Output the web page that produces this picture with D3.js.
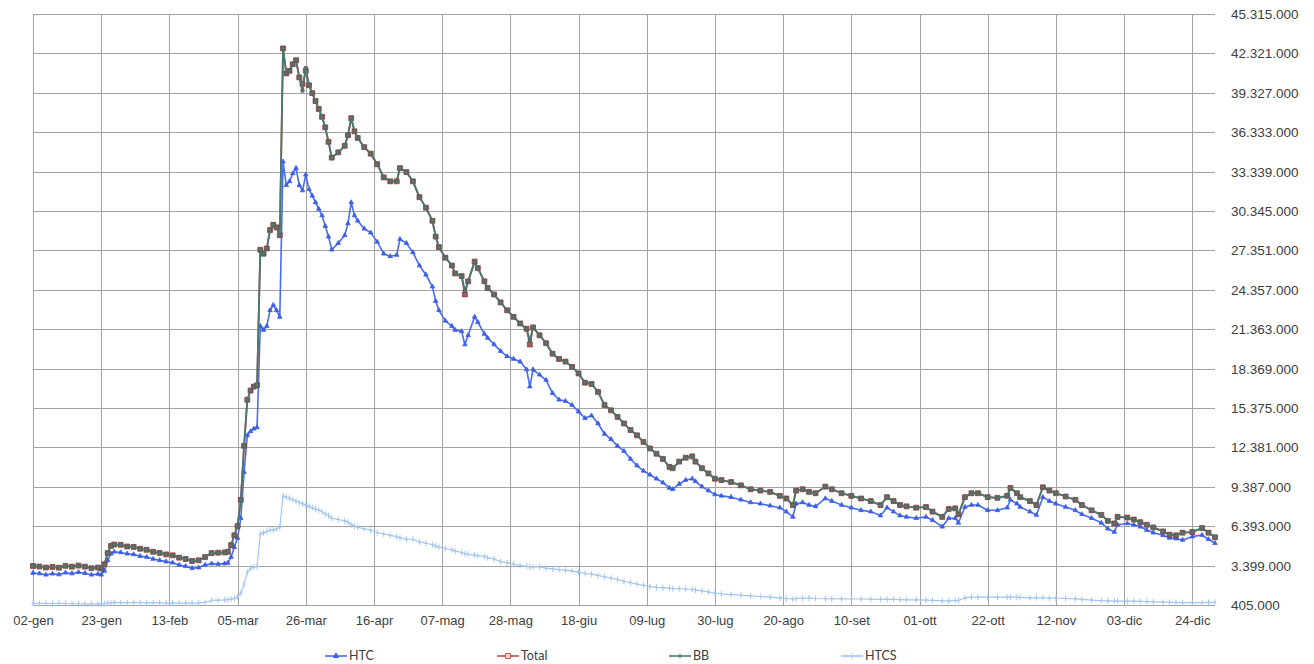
<!DOCTYPE html>
<html>
<head>
<meta charset="utf-8">
<script src="https://cdn.jsdelivr.net/npm/d3@7"></script>
<style>
  html, body { margin: 0; padding: 0; background: #fff; }
  svg { display: block; font-family: Lato, "Open Sans", sans-serif; }
</style>
</head>
<body>
<svg id="chart" width="1314" height="664"></svg>
<script>
// ---- DATA (values in millions) ----
const dates = ["01-02","01-04","01-06","01-08","01-10","01-12","01-14","01-16","01-18","01-20","01-22","01-23","01-24","01-25","01-26","01-27","01-29","01-31",
"02-02","02-04","02-06","02-08","02-10","02-12","02-14","02-16","02-18","02-20","02-22","02-24","02-26","02-28",
"03-01","03-02","03-03","03-04","03-05","03-06","03-07","03-08","03-09","03-10","03-11","03-12","03-13","03-14","03-15","03-16","03-17","03-18","03-19","03-20","03-21","03-22","03-23","03-24","03-25","03-26","03-27","03-28","03-29","03-30","03-31",
"04-01","04-02","04-03","04-05","04-07","04-08","04-09","04-10","04-11","04-13","04-15","04-17","04-19","04-21","04-23","04-24","04-26","04-28","04-30",
"05-02","05-04","05-05","05-06","05-08","05-10","05-11","05-13","05-14","05-15","05-17","05-18","05-20","05-21","05-23","05-25","05-27","05-29","05-31",
"06-02","06-03","06-04","06-06","06-08","06-10","06-12","06-14","06-16","06-18","06-20","06-22","06-24","06-26","06-28","06-30",
"07-02","07-04","07-06","07-08","07-10","07-12","07-14","07-16","07-17","07-19","07-21","07-23","07-24","07-26","07-28","07-30",
"08-01","08-04","08-07","08-10","08-13","08-16","08-19","08-21","08-23","08-24","08-26","08-28","08-30",
"09-02","09-04","09-07","09-10","09-13","09-16","09-19","09-21","09-23","09-25","09-27","09-30",
"10-03","10-05","10-08","10-10","10-12","10-13","10-15","10-17","10-19","10-22","10-25","10-28","10-29","10-31",
"11-01","11-04","11-06","11-08","11-10","11-12","11-15","11-18","11-20","11-23","11-26","11-28","11-30",
"12-01","12-04","12-06","12-08","12-10","12-12","12-15","12-17","12-19","12-21","12-24","12-27","12-29","12-31"];

const htc = [2.84,2.80,2.70,2.78,2.72,2.86,2.80,2.90,2.82,2.70,2.76,2.70,3.00,3.80,4.30,4.45,4.40,4.30,
4.25,4.12,4.05,3.90,3.80,3.70,3.62,3.45,3.35,3.20,3.25,3.45,3.55,3.52,
3.55,3.60,4.05,4.80,5.50,7.00,10.5,13.3,13.6,13.8,13.9,21.6,21.3,21.6,22.8,23.2,22.8,22.3,34.1,32.3,32.6,33.2,33.6,32.3,31.9,33.1,32.0,31.5,31.0,30.5,30.0,
29.2,28.4,27.4,27.9,28.5,29.4,31.0,30.0,29.6,29.0,28.7,28.0,27.1,26.9,27.0,28.2,27.9,27.2,26.2,
25.5,24.6,23.5,22.8,22.0,21.6,21.3,21.2,20.2,20.9,22.3,21.9,21.0,20.7,20.2,19.7,19.3,19.1,18.9,
18.3,17.0,18.3,17.9,17.5,16.5,16.0,15.9,15.6,15.1,14.6,14.8,14.2,13.4,13.0,12.5,
12.1,11.5,11.0,10.6,10.3,10.0,9.7,9.3,9.2,9.6,9.9,10.0,9.8,9.4,9.1,8.8,
8.7,8.6,8.4,8.2,8.1,7.95,7.8,7.5,7.1,8.1,8.2,8.0,7.9,
8.5,8.3,8.0,7.8,7.6,7.5,7.2,7.8,7.5,7.2,7.1,7.0,
7.1,6.85,6.35,7.0,7.0,6.65,7.85,8.0,8.0,7.6,7.6,7.8,8.4,8.1,
7.85,7.5,7.24,8.6,8.3,8.1,7.85,7.6,7.3,7.0,6.65,6.2,5.95,
6.5,6.6,6.5,6.35,6.1,5.9,5.7,5.5,5.45,5.35,5.6,5.72,5.4,5.1];

const total = [3.37,3.33,3.25,3.30,3.24,3.38,3.32,3.40,3.32,3.20,3.25,3.18,3.50,4.35,4.90,5.00,4.98,4.85,
4.82,4.68,4.60,4.45,4.36,4.25,4.18,4.00,3.90,3.75,3.80,4.05,4.35,4.38,
4.40,4.45,4.96,5.70,6.40,8.40,12.5,16.0,16.7,17.0,17.1,27.4,27.1,27.5,28.9,29.3,29.1,28.5,42.7,40.8,41.0,41.5,41.8,40.5,40.0,41.0,39.9,39.3,38.7,38.1,37.5,
36.7,35.6,34.4,34.8,35.3,36.1,37.4,36.4,35.9,35.2,34.7,33.9,32.9,32.6,32.6,33.6,33.3,32.6,31.4,
30.6,29.6,28.4,27.6,26.8,26.2,25.6,25.4,24.0,25.0,26.5,26.0,25.0,24.5,24.0,23.4,22.8,22.3,21.8,
21.4,20.2,21.5,20.9,20.3,19.5,19.1,18.9,18.5,18.0,17.3,17.2,16.6,15.6,15.2,14.7,
14.2,13.7,13.3,12.8,12.3,11.9,11.5,10.9,10.8,11.3,11.6,11.7,11.3,10.8,10.4,10.0,
9.9,9.75,9.5,9.2,9.1,9.0,8.7,8.5,8.0,9.1,9.2,9.0,8.9,
9.4,9.2,8.9,8.7,8.5,8.3,8.0,8.6,8.3,8.0,7.9,7.8,
7.85,7.5,7.1,7.7,7.75,7.3,8.6,8.9,8.9,8.6,8.55,8.7,9.3,8.9,
8.6,8.3,8.0,9.35,9.1,8.9,8.65,8.4,8.0,7.6,7.25,6.8,6.6,
7.1,7.05,6.9,6.7,6.5,6.3,6.0,5.75,5.7,5.9,5.95,6.25,5.9,5.55];

const bb = [3.37,3.33,3.25,3.30,3.24,3.38,3.32,3.40,3.32,3.20,3.25,3.18,3.50,4.35,4.90,5.00,4.98,4.85,
4.82,4.68,4.60,4.45,4.36,4.25,4.18,4.00,3.90,3.75,3.80,4.05,4.35,4.38,
4.40,4.45,4.96,5.70,6.40,8.40,12.5,16.0,16.7,17.0,17.1,27.4,27.1,27.5,28.9,29.3,29.1,28.5,42.7,40.8,41.0,41.5,41.8,40.5,39.5,41.2,39.9,39.3,38.7,38.1,37.5,
36.7,35.6,34.4,34.8,35.3,36.1,37.4,36.4,35.9,35.2,34.7,33.9,32.9,32.6,32.6,33.6,33.3,32.6,31.4,
30.6,29.6,28.4,27.6,26.8,26.2,25.6,25.4,24.3,25.0,26.5,26.0,25.0,24.5,24.0,23.4,22.8,22.3,21.8,
21.4,20.5,21.5,20.9,20.3,19.5,19.1,18.9,18.5,18.0,17.3,17.2,16.6,15.6,15.2,14.7,
14.2,13.7,13.3,12.8,12.3,11.9,11.5,10.9,10.8,11.3,11.6,11.7,11.3,10.8,10.4,10.0,
9.9,9.75,9.5,9.2,9.1,9.0,8.7,8.5,8.0,9.1,9.2,9.0,8.9,
9.4,9.2,8.9,8.7,8.5,8.3,8.0,8.6,8.3,8.0,7.9,7.8,
7.85,7.5,7.1,7.7,7.75,7.3,8.6,8.9,8.9,8.6,8.55,8.7,9.3,8.9,
8.6,8.3,8.0,9.35,9.1,8.9,8.65,8.4,8.0,7.6,7.25,6.8,6.6,
7.1,7.05,6.9,6.7,6.5,6.3,6.0,5.75,5.7,5.9,5.95,6.25,5.9,5.55];

const htcs = [0.53,0.53,0.52,0.52,0.53,0.52,0.50,0.50,0.48,0.50,0.49,0.50,0.52,0.55,0.58,0.60,0.58,0.56,
0.60,0.58,0.57,0.58,0.57,0.55,0.56,0.55,0.55,0.55,0.56,0.60,0.75,0.78,
0.80,0.82,0.85,0.90,1.00,1.30,2.00,2.90,3.20,3.30,3.30,5.80,5.90,6.00,6.10,6.10,6.20,6.30,8.70,8.60,8.50,8.40,8.30,8.20,8.10,8.00,7.90,7.80,7.70,7.60,7.50,
7.30,7.20,7.00,6.90,6.80,6.70,6.50,6.40,6.30,6.20,6.10,5.90,5.80,5.70,5.60,5.50,5.40,5.40,5.20,
5.10,5.00,4.90,4.80,4.70,4.60,4.50,4.40,4.30,4.25,4.20,4.15,4.10,4.00,3.90,3.70,3.60,3.50,3.40,
3.35,3.30,3.30,3.30,3.20,3.15,3.10,3.05,3.00,2.90,2.80,2.75,2.65,2.55,2.45,2.35,
2.20,2.10,2.00,1.90,1.80,1.75,1.72,1.68,1.65,1.64,1.62,1.60,1.55,1.48,1.40,1.30,
1.25,1.20,1.15,1.10,1.05,1.00,0.95,0.90,0.86,0.90,0.92,0.93,0.90,
0.88,0.88,0.87,0.86,0.86,0.85,0.84,0.84,0.83,0.82,0.80,0.80,
0.78,0.75,0.72,0.72,0.74,0.75,0.95,1.00,1.00,1.00,1.00,1.00,1.00,1.00,
0.98,0.95,0.95,0.95,0.93,0.92,0.90,0.87,0.83,0.78,0.74,0.72,0.70,
0.70,0.70,0.70,0.68,0.66,0.65,0.62,0.60,0.60,0.58,0.58,0.58,0.60,0.62];

const seriesNames = ["HTC", "Total", "BB", "HTCS"];
const yTicks = [405000,3399000,6393000,9387000,12381000,15375000,18369000,21363000,24357000,27351000,30345000,33339000,36333000,39327000,42321000,45315000];
const xTickDates = ["2020-01-02","2020-01-23","2020-02-13","2020-03-05","2020-03-26","2020-04-16","2020-05-07","2020-05-28","2020-06-18","2020-07-09","2020-07-30","2020-08-20","2020-09-10","2020-10-01","2020-10-22","2020-11-12","2020-12-03","2020-12-24"];
const xTickLabels = ["02-gen","23-gen","13-feb","05-mar","26-mar","16-apr","07-mag","28-mag","18-giu","09-lug","30-lug","20-ago","10-set","01-ott","22-ott","12-nov","03-dic","24-dic"];
const UNIT = 1e6;

// ---- CHART ----
const svg = d3.select("#chart");
const parse = d3.timeParse("%Y-%m-%d");
const L = 33, R = 1215, T = 14, B = 605;

const x = d3.scaleTime()
  .domain([parse("2020-01-02"), parse("2020-12-31")])
  .range([L, R]);
const y = d3.scaleLinear()
  .domain([405000, 45315000])
  .range([B, T]);

const itLocale = d3.formatLocale({decimal: ",", thousands: ".", grouping: [3], currency: ["€", ""]});
const fmt = itLocale.format(",d");

const tDates = dates.map(d => parse("2020-" + d));
const tickDates = xTickDates.map(parse);

// gridlines
const grid = svg.append("g").attr("shape-rendering", "crispEdges");
grid.selectAll("line.h").data(yTicks).enter().append("line")
  .attr("x1", L).attr("x2", R)
  .attr("y1", d => Math.round(y(d)) + 0.5).attr("y2", d => Math.round(y(d)) + 0.5)
  .attr("stroke", "#a3a3a3").attr("stroke-width", 1);
grid.selectAll("line.v").data(tickDates).enter().append("line")
  .attr("x1", d => Math.round(x(d)) + 0.5).attr("x2", d => Math.round(x(d)) + 0.5)
  .attr("y1", T).attr("y2", B)
  .attr("stroke", "#a3a3a3").attr("stroke-width", 1);

// axes
const yAxis = d3.axisRight(y).tickValues(yTicks).tickFormat(fmt).tickSize(0).tickPadding(0);
const gy = svg.append("g").attr("transform", `translate(1231,0)`).call(yAxis);
gy.select(".domain").remove();
gy.selectAll("text").attr("fill", "#404040").style("font-size", "13.5px").attr("dy", "0.34em");

const xAxis = d3.axisBottom(x).tickValues(tickDates).tickFormat((d, i) => xTickLabels[i]).tickSize(0).tickPadding(0);
const gx = svg.append("g").attr("transform", `translate(0,616)`).call(xAxis);
gx.select(".domain").remove();
gx.selectAll("text").attr("fill", "#404040").style("font-size", "13px").attr("dy", "0.71em");

// series
const mk = arr => arr.map((v, i) => ({date: tDates[i], v: v * UNIT}));
const series = [
  {name: "HTC", data: mk(htc), color: "#4a6cf0", width: 1.6, marker: "tri", mfill: "#3d5fe6", mstroke: "#3d5fe6"},
  {name: "Total", data: mk(total), color: "#c0504d", width: 1.8, marker: "sqBig", mfill: "#a0605c", mstroke: "#8c3b38"},
  {name: "BB", data: mk(bb), color: "#467a70", width: 1.8, marker: "sqSmall", mfill: "#62756f", mstroke: "#4f625c"},
  {name: "HTCS", data: mk(htcs), color: "#a3c6f0", width: 1.2, marker: "cross", mfill: "#a3c6f0", mstroke: "#a3c6f0"}
];
const drawOrder = ["HTCS", "HTC", "Total", "BB"];

const line = d3.line().x(d => x(d.date)).y(d => y(d.v));

function markerPath(type) {
  if (type === "tri") return d3.symbol(d3.symbolTriangle, 9)();
  if (type === "sqBig") return d3.symbol(d3.symbolSquare, 24)();
  if (type === "sqSmall") return d3.symbol(d3.symbolSquare, 10)();
  return "M0,-3V3M-1.5,0H1.5";
}

drawOrder.forEach(nm => {
  const s = series.find(q => q.name === nm);
  const g = svg.append("g");
  g.append("path").datum(s.data)
    .attr("d", line).attr("fill", "none")
    .attr("stroke", s.color).attr("stroke-width", s.width).attr("stroke-linejoin", "round");
  g.selectAll("path.m").data(s.data).enter().append("path")
    .attr("class", "m")
    .attr("transform", d => `translate(${x(d.date)},${y(d.v)})`)
    .attr("d", markerPath(s.marker))
    .attr("fill", s.marker === "cross" ? "none" : s.mfill)
    .attr("stroke", s.mstroke).attr("stroke-width", s.marker === "cross" ? 1 : 0.8);
});

// legend
const legendX0 = 325, legendStep = 172, legendY = 656;
const lg = svg.append("g");
seriesNames.forEach((nm, i) => {
  const s = series.find(q => q.name === nm);
  const gx0 = legendX0 + i * legendStep;
  const item = lg.append("g").attr("transform", `translate(${gx0},${legendY})`);
  item.append("line").attr("x1", 0).attr("x2", 22).attr("y1", 0).attr("y2", 0)
    .attr("stroke", s.color).attr("stroke-width", 1.6);
  let mp = markerPath(s.marker);
  if (nm === "BB") mp = "M0,-2.5V2.5M-2.5,0H2.5";
  if (nm === "HTC") mp = d3.symbol(d3.symbolTriangle, 12)();
  item.append("path").attr("transform", "translate(11,0)").attr("d", mp)
    .attr("fill", nm === "Total" ? "#f3d6d4" : (s.marker === "cross" || nm === "BB" ? "none" : s.mfill))
    .attr("stroke", nm === "Total" ? "#c0504d" : (nm === "BB" ? s.color : s.mstroke))
    .attr("stroke-width", 1);
  item.append("text").attr("x", 24).attr("y", 0).attr("dy", "0.35em")
    .attr("fill", "#404040").style("font-size", "12.5px").text(nm);
});
</script>
</body>
</html>
